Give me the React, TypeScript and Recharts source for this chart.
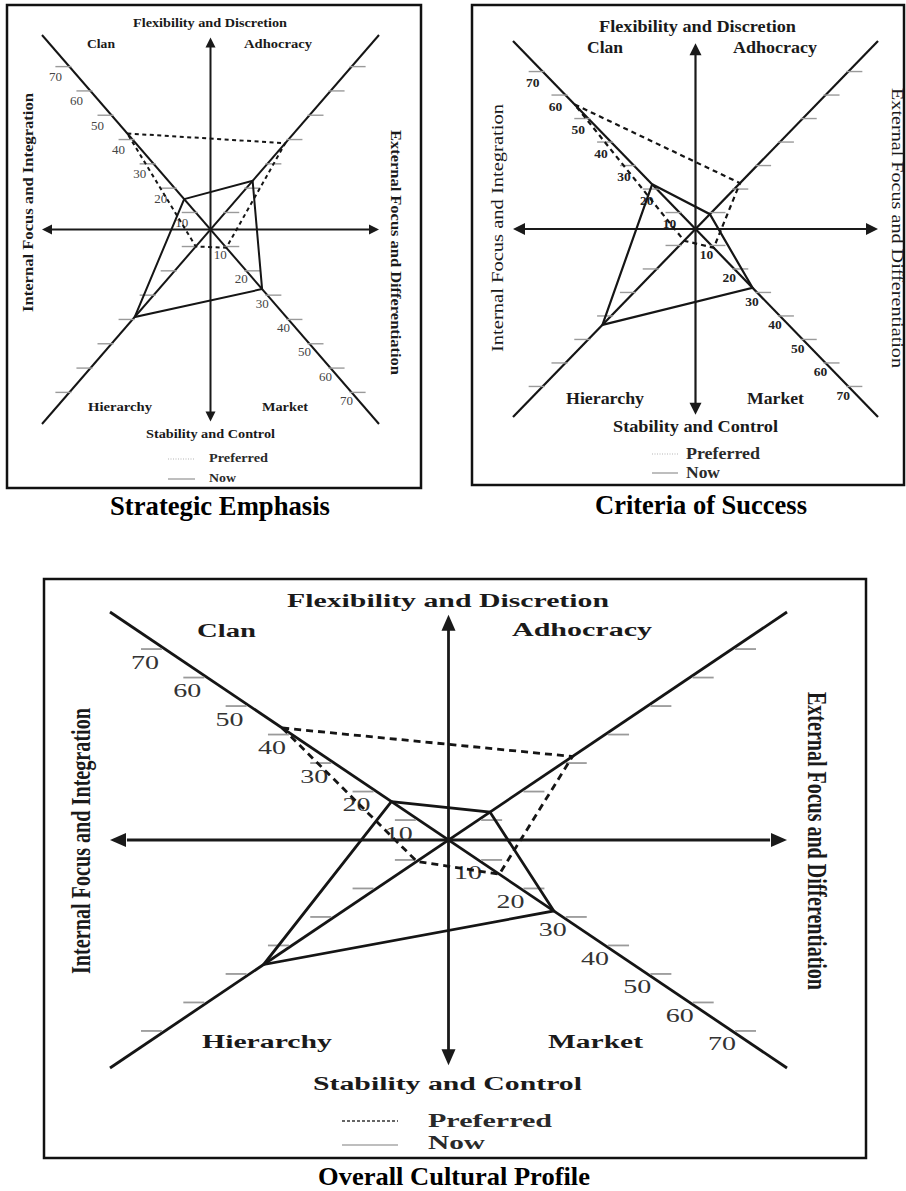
import React from 'react';
import { ScatterChart, Scatter, XAxis, YAxis, ReferenceLine } from 'recharts';

// ---------- data ----------
const quadrantNames = ['Clan', 'Adhocracy', 'Market', 'Hierarchy'];
const strategicNow = [15.5, 23, 27.5, 39];
const strategicPreferred = [42.5, 38.5, 10.5, 10];
const successNow = [22, 9.3, 28, 43.8];
const successPreferred = [56, 22.5, 11, 8];
const overallNow = [16.5, 12.8, 27.9, 46.7];
const overallPreferred = [42.3, 32.3, 15, 10.5];
const scaleTicks = [10, 20, 30, 40, 50, 60, 70];
const labelledArms = ['Clan', 'Market'];
const seriesNames = ['Preferred', 'Now'];
const panelTitles = ['Strategic Emphasis', 'Criteria of Success', 'Overall Cultural Profile'];
const axisTitles = [
  'Flexibility and Discretion',
  'Stability and Control',
  'Internal Focus and Integration',
  'External Focus and Differentiation',
];

// scale: the crossing of the axes sits at value 3, the arms end at 80 units
const CENTER_VALUE = 3;
const ARM_END = 80;
const FONT = "'Liberation Serif','Times New Roman',serif";

const armSign: Record<string, [number, number]> = {
  Clan: [-1, 1],
  Adhocracy: [1, 1],
  Market: [1, -1],
  Hierarchy: [-1, -1],
};

const toPoint = (arm: string, v: number) => {
  const [sx, sy] = armSign[arm];
  const r = v - CENTER_VALUE;
  return { x: sx * r, y: sy * r };
};

const profilePoints = (values: number[]) => {
  const pts = quadrantNames.map((q, i) => ({ ...toPoint(q, values[i]), name: q, value: values[i] }));
  return [...pts, pts[0]];
};

const tickData = quadrantNames.flatMap((q) => scaleTicks.map((v) => ({ ...toPoint(q, v), value: v, arm: q })));
const tickLabelData = labelledArms.flatMap((q) =>
  scaleTicks.map((v) => ({ ...toPoint(q, v), label: String(v), arm: q }))
);
const arrowTips = [
  { x: 0, y: ARM_END - 1, dir: 'up' },
  { x: 0, y: -(ARM_END - 1), dir: 'down' },
  { x: -ARM_END, y: 0, dir: 'left' },
  { x: ARM_END, y: 0, dir: 'right' },
];

const panelData = [
  { now: strategicNow, preferred: strategicPreferred },
  { now: successNow, preferred: successPreferred },
  { now: overallNow, preferred: overallPreferred },
];

// ---------- layout / style ----------
type Layout = any;
const layouts: Layout[] = [
  {
    box: [7, 5, 421, 488],
    margin: { top: 30, right: 42, bottom: 64, left: 35 },
    lw: 2,
    tick: [-2, 14, 1.4],
    arrow: [10, 5],
    dash: '4 3.5',
    label: { size: 13, bold: false, fill: '#444', ul: [-14, 10], lr: [-5, 8] },
    txt: {
      size: 13.5,
      top: [210, 27, 154],
      clan: [87, 48, 28],
      adhoc: [244, 48, 68],
      hier: [88, 411, 64],
      market: [262, 411, 46],
      bottom: [210.5, 438, 129],
      pref: [209, 462, 59],
      now: [209, 482, 27],
      prefLine: [168, 195, 459],
      nowLine: [168, 195, 479],
      left: [33, 202.5, 219, 15, true],
      right: [391, 252.5, 245, 15, true],
      title: [220, 515, 220, 26.5],
    },
    legendPref: { stroke: '#b5b5b5', dash: '1 1.5', w: 1.2 },
  },
  {
    box: [472, 5, 904, 485],
    margin: { top: 36, right: 26, bottom: 68, left: 41 },
    lw: 2.2,
    tick: [-2, 14, 1.4],
    arrow: [12, 6],
    dash: '5 4',
    label: { size: 13.5, bold: true, fill: '#222', ul: [-10, 11], lr: [-5, 9] },
    txt: {
      size: 16,
      top: [697.5, 32, 197],
      clan: [587, 53, 36],
      adhoc: [733, 53, 84],
      hier: [566, 404, 78],
      market: [747, 404, 57],
      bottom: [695.5, 432, 165],
      pref: [686, 459, 74],
      now: [686, 478, 34],
      prefLine: [652, 678, 454],
      nowLine: [652, 678, 473],
      left: [503, 228, 248, 17, false],
      right: [892, 228, 280, 17, false],
      title: [701, 514, 212, 26.5],
    },
    legendPref: { stroke: '#b5b5b5', dash: '1 1.5', w: 1.2 },
  },
  {
    box: [44, 579, 866, 1158],
    margin: { top: 33, right: 79, bottom: 90, left: 66 },
    lw: 2.8,
    tick: [3, 24, 1.8],
    arrow: [16, 7],
    dash: '7 5',
    label: { size: 19, bold: false, fill: '#333', ul: [-20, 13], lr: [-10, 13], len: 28 },
    txt: {
      size: 18,
      top: [448, 607, 322],
      clan: [197, 637, 59],
      adhoc: [512, 636, 140],
      hier: [202, 1048, 130],
      market: [548, 1048, 95],
      bottom: [447.5, 1090, 269],
      pref: [428, 1127, 124],
      now: [428, 1149, 57],
      prefLine: [342, 398, 1121],
      nowLine: [342, 398, 1145],
      left: [90, 841, 266, 28, true],
      right: [808, 841, 298, 28, true],
      title: [454, 1185, 272, 26],
    },
    legendPref: { stroke: '#333', dash: '3 2', w: 1.5 },
  },
];

// ---------- shapes ----------
const EmptyShape = () => null;

const makeTickShape = (a: number, b: number, w: number) => (props: any) => {
  const { cx, cy, payload } = props;
  const side = payload.x < 0 ? -1 : 1;
  return <line x1={cx + side * a} x2={cx + side * b} y1={cy} y2={cy} stroke="#9a9a9a" strokeWidth={w} />;
};

const makeLabelShape = (L: any) => (props: any) => {
  const { cx, cy, payload } = props;
  const off = payload.arm === 'Clan' ? L.ul : L.lr;
  return (
    <text
      x={cx + off[0]}
      y={cy + off[1]}
      textAnchor="middle"
      dominantBaseline="central"
      fontFamily={FONT}
      fontSize={L.size}
      fontWeight={L.bold ? 700 : 400}
      fill={L.fill}
      textLength={L.len}
      lengthAdjust={L.len ? 'spacingAndGlyphs' : undefined}
    >
      {payload.label}
    </text>
  );
};

const dirVec: Record<string, [number, number]> = { up: [0, -1], down: [0, 1], left: [-1, 0], right: [1, 0] };
const makeArrowShape = (len: number, half: number) => (props: any) => {
  const { cx, cy, payload } = props;
  const [dx, dy] = dirVec[payload.dir];
  const bx = cx - dx * len;
  const by = cy - dy * len;
  const px = -dy;
  const py = dx;
  const pts = `${cx},${cy} ${bx + px * half},${by + py * half} ${bx - px * half},${by - py * half}`;
  return <polygon points={pts} fill="#1a1a1a" />;
};

// ---------- chart panel ----------
const Panel = ({ layout, data }: { layout: Layout; data: { now: number[]; preferred: number[] } }) => {
  const [x0, y0, x1, y1] = layout.box;
  const w = x1 - x0;
  const h = y1 - y0;
  const axisEnd = ARM_END - 4;
  return (
    <div style={{ position: 'absolute', left: x0, top: y0, width: w, height: h }}>
      <ScatterChart width={w} height={h} margin={layout.margin}>
        <XAxis type="number" dataKey="x" domain={[-ARM_END, ARM_END]} hide allowDataOverflow />
        <YAxis type="number" dataKey="y" domain={[-ARM_END, ARM_END]} hide allowDataOverflow />
        <ReferenceLine
          segment={[{ x: -ARM_END, y: ARM_END }, { x: ARM_END, y: -ARM_END }]}
          stroke="#151515"
          strokeWidth={layout.lw}
          ifOverflow="visible"
        />
        <ReferenceLine
          segment={[{ x: -ARM_END, y: -ARM_END }, { x: ARM_END, y: ARM_END }]}
          stroke="#151515"
          strokeWidth={layout.lw}
          ifOverflow="visible"
        />
        <ReferenceLine
          segment={[{ x: 0, y: -axisEnd }, { x: 0, y: axisEnd }]}
          stroke="#1a1a1a"
          strokeWidth={layout.lw}
          ifOverflow="visible"
        />
        <ReferenceLine
          segment={[{ x: -axisEnd, y: 0 }, { x: axisEnd, y: 0 }]}
          stroke="#1a1a1a"
          strokeWidth={layout.lw}
          ifOverflow="visible"
        />
        <Scatter
          data={tickData}
          shape={makeTickShape(layout.tick[0], layout.tick[1], layout.tick[2])}
          isAnimationActive={false}
        />
        <Scatter data={tickLabelData} shape={makeLabelShape(layout.label)} isAnimationActive={false} />
        <Scatter
          name={seriesNames[0]}
          data={profilePoints(data.preferred)}
          line={{ stroke: '#151515', strokeWidth: layout.lw, strokeDasharray: layout.dash }}
          shape={EmptyShape}
          isAnimationActive={false}
        />
        <Scatter
          name={seriesNames[1]}
          data={profilePoints(data.now)}
          line={{ stroke: '#151515', strokeWidth: layout.lw }}
          shape={EmptyShape}
          isAnimationActive={false}
        />
        <Scatter data={arrowTips} shape={makeArrowShape(layout.arrow[0], layout.arrow[1])} isAnimationActive={false} />
      </ScatterChart>
    </div>
  );
};

// ---------- text overlay ----------
const SvgText = ({
  t,
  x,
  y,
  len,
  size,
  bold = true,
  anchor = 'start',
  rot = 0,
  fill = '#1a1a1a',
}: {
  t: string;
  x: number;
  y: number;
  len?: number;
  size: number;
  bold?: boolean;
  anchor?: 'start' | 'middle';
  rot?: number;
  fill?: string;
}) => (
  <text
    transform={`translate(${x} ${y})${rot ? ` rotate(${rot})` : ''}`}
    textAnchor={anchor}
    fontFamily={FONT}
    fontSize={size}
    fontWeight={bold ? 700 : 400}
    fill={fill}
    textLength={len}
    lengthAdjust={len ? 'spacingAndGlyphs' : undefined}
  >
    {t}
  </text>
);

const PanelText = ({ layout, title }: { layout: Layout; title: string }) => {
  const T = layout.txt;
  const s = T.size;
  const [x0, y0, x1, y1] = layout.box;
  return (
    <g>
      <rect x={x0} y={y0} width={x1 - x0} height={y1 - y0} fill="none" stroke="#111" strokeWidth={2.5} />
      <SvgText t={axisTitles[0]} x={T.top[0]} y={T.top[1]} len={T.top[2]} size={s} anchor="middle" />
      <SvgText t={quadrantNames[0]} x={T.clan[0]} y={T.clan[1]} len={T.clan[2]} size={s} />
      <SvgText t={quadrantNames[1]} x={T.adhoc[0]} y={T.adhoc[1]} len={T.adhoc[2]} size={s} />
      <SvgText t={quadrantNames[2]} x={T.market[0]} y={T.market[1]} len={T.market[2]} size={s} />
      <SvgText t={quadrantNames[3]} x={T.hier[0]} y={T.hier[1]} len={T.hier[2]} size={s} />
      <SvgText t={axisTitles[1]} x={T.bottom[0]} y={T.bottom[1]} len={T.bottom[2]} size={s} anchor="middle" />
      <SvgText
        t={axisTitles[2]}
        x={T.left[0]}
        y={T.left[1]}
        len={T.left[2]}
        size={T.left[3]}
        bold={T.left[4]}
        anchor="middle"
        rot={-90}
      />
      <SvgText
        t={axisTitles[3]}
        x={T.right[0]}
        y={T.right[1]}
        len={T.right[2]}
        size={T.right[3]}
        bold={T.right[4]}
        anchor="middle"
        rot={90}
      />
      <line
        x1={T.prefLine[0]}
        x2={T.prefLine[1]}
        y1={T.prefLine[2]}
        y2={T.prefLine[2]}
        stroke={layout.legendPref.stroke}
        strokeWidth={layout.legendPref.w}
        strokeDasharray={layout.legendPref.dash}
      />
      <line x1={T.nowLine[0]} x2={T.nowLine[1]} y1={T.nowLine[2]} y2={T.nowLine[2]} stroke="#a8a8a8" strokeWidth={1.5} />
      <SvgText t={seriesNames[0]} x={T.pref[0]} y={T.pref[1]} len={T.pref[2]} size={s} fill="#2a2a2a" />
      <SvgText t={seriesNames[1]} x={T.now[0]} y={T.now[1]} len={T.now[2]} size={s} fill="#2a2a2a" />
      <SvgText t={title} x={T.title[0]} y={T.title[1]} len={T.title[2]} size={T.title[3]} anchor="middle" fill="#000" />
    </g>
  );
};

export default function App() {
  return (
    <div style={{ position: 'absolute', left: 0, top: 0, width: 906, height: 1191, background: '#fff' }}>
      {layouts.map((l, i) => (
        <Panel key={i} layout={l} data={panelData[i]} />
      ))}
      <svg
        width={906}
        height={1191}
        style={{ position: 'absolute', left: 0, top: 0, pointerEvents: 'none' }}
      >
        {layouts.map((l, i) => (
          <PanelText key={i} layout={l} title={panelTitles[i]} />
        ))}
      </svg>
    </div>
  );
}
